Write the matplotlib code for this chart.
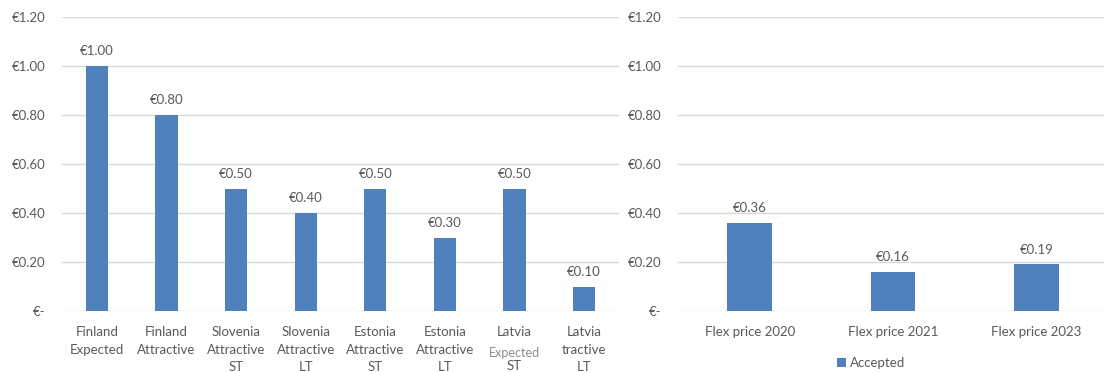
import matplotlib
matplotlib.use('Agg')
import matplotlib.pyplot as plt
import numpy as np

plt.rcParams['font.family'] = ['Lato', 'DejaVu Sans']

# left panel: price per scenario
scenarios = ['Finland\nExpected', 'Finland\nAttractive', 'Slovenia\nAttractive\nST',
             'Slovenia\nAttractive\nLT', 'Estonia\nAttractive\nST', 'Estonia\nAttractive\nLT',
             'Latvia', 'Latvia\ntractive\nLT']
scenario_prices = [1.00, 0.80, 0.50, 0.40, 0.50, 0.30, 0.50, 0.10]

# right panel: accepted flex prices
flex_labels = ['Flex price 2020', 'Flex price 2021', 'Flex price 2023']
flex_accepted = [0.36, 0.16, 0.19]

yticks = [0, 0.2, 0.4, 0.6, 0.8, 1.0, 1.2]
ytick_labels = ['€-', '€0.20', '€0.40', '€0.60', '€0.80', '€1.00', '€1.20']

bar_color = '#4F81BD'
text_color = '#595959'
grid_color = '#D9D9D9'
fs = 9.5

fig = plt.figure(figsize=(11.04, 3.72), dpi=100)
W, H = 1104, 372
ax1 = fig.add_axes([62 / W, (H - 311) / H, 557 / W, 294 / H])
ax2 = fig.add_axes([678 / W, (H - 311) / H, 430 / W, 294 / H])


def style(ax):
    ax.set_ylim(0, 1.2)
    ax.set_yticks(yticks)
    ax.set_yticklabels(ytick_labels)
    ax.grid(axis='y', color=grid_color, linewidth=1)
    ax.set_axisbelow(True)
    for s in ax.spines.values():
        s.set_visible(False)
    ax.tick_params(length=0, labelsize=fs, colors=text_color)
    ax.tick_params(axis='y', pad=12)
    ax.tick_params(axis='x', pad=11)


x1 = np.arange(len(scenarios))
bars1 = ax1.bar(x1, scenario_prices, width=0.32, color=bar_color, zorder=2)
style(ax1)
ax1.set_xlim(-0.5, len(scenarios) - 0.5)
ax1.set_xticks(x1)
ax1.set_xticklabels(scenarios, linespacing=1.55)
for b, v in zip(bars1, scenario_prices):
    ax1.text(b.get_x() + b.get_width() / 2, v + 0.035, f'€{v:.2f}',
             ha='center', va='bottom', fontsize=fs, color=text_color)
# rest of the Latvia ST label: lighter middle line, then ST
xt = ax1.get_xaxis_transform()
ax1.text(6, -42 / 294, 'Expected', ha='center', va='center', fontsize=9,
         color='#8C8C8C', transform=xt, clip_on=False)
ax1.text(6, -54.5 / 294, 'ST', ha='center', va='center', fontsize=fs,
         color=text_color, transform=xt, clip_on=False)

x2 = np.arange(len(flex_labels))
bars2 = ax2.bar(x2, flex_accepted, width=0.31, color=bar_color, zorder=2, label='Accepted')
style(ax2)
ax2.set_xlim(-0.5, len(flex_labels) - 0.5)
ax2.set_xticks(x2)
ax2.set_xticklabels(flex_labels)
for b, v in zip(bars2, flex_accepted):
    ax2.text(b.get_x() + b.get_width() / 2, v + 0.035, f'€{v:.2f}',
             ha='center', va='bottom', fontsize=fs, color=text_color)

fig.legend(handles=[bars2], labels=['Accepted'], loc='center', bbox_to_anchor=(871 / W, (H - 363) / H),
           frameon=False, fontsize=fs, labelcolor=text_color, handlelength=0.7,
           handleheight=0.7, handletextpad=0.3)

fig.savefig('out.png', dpi=100)
